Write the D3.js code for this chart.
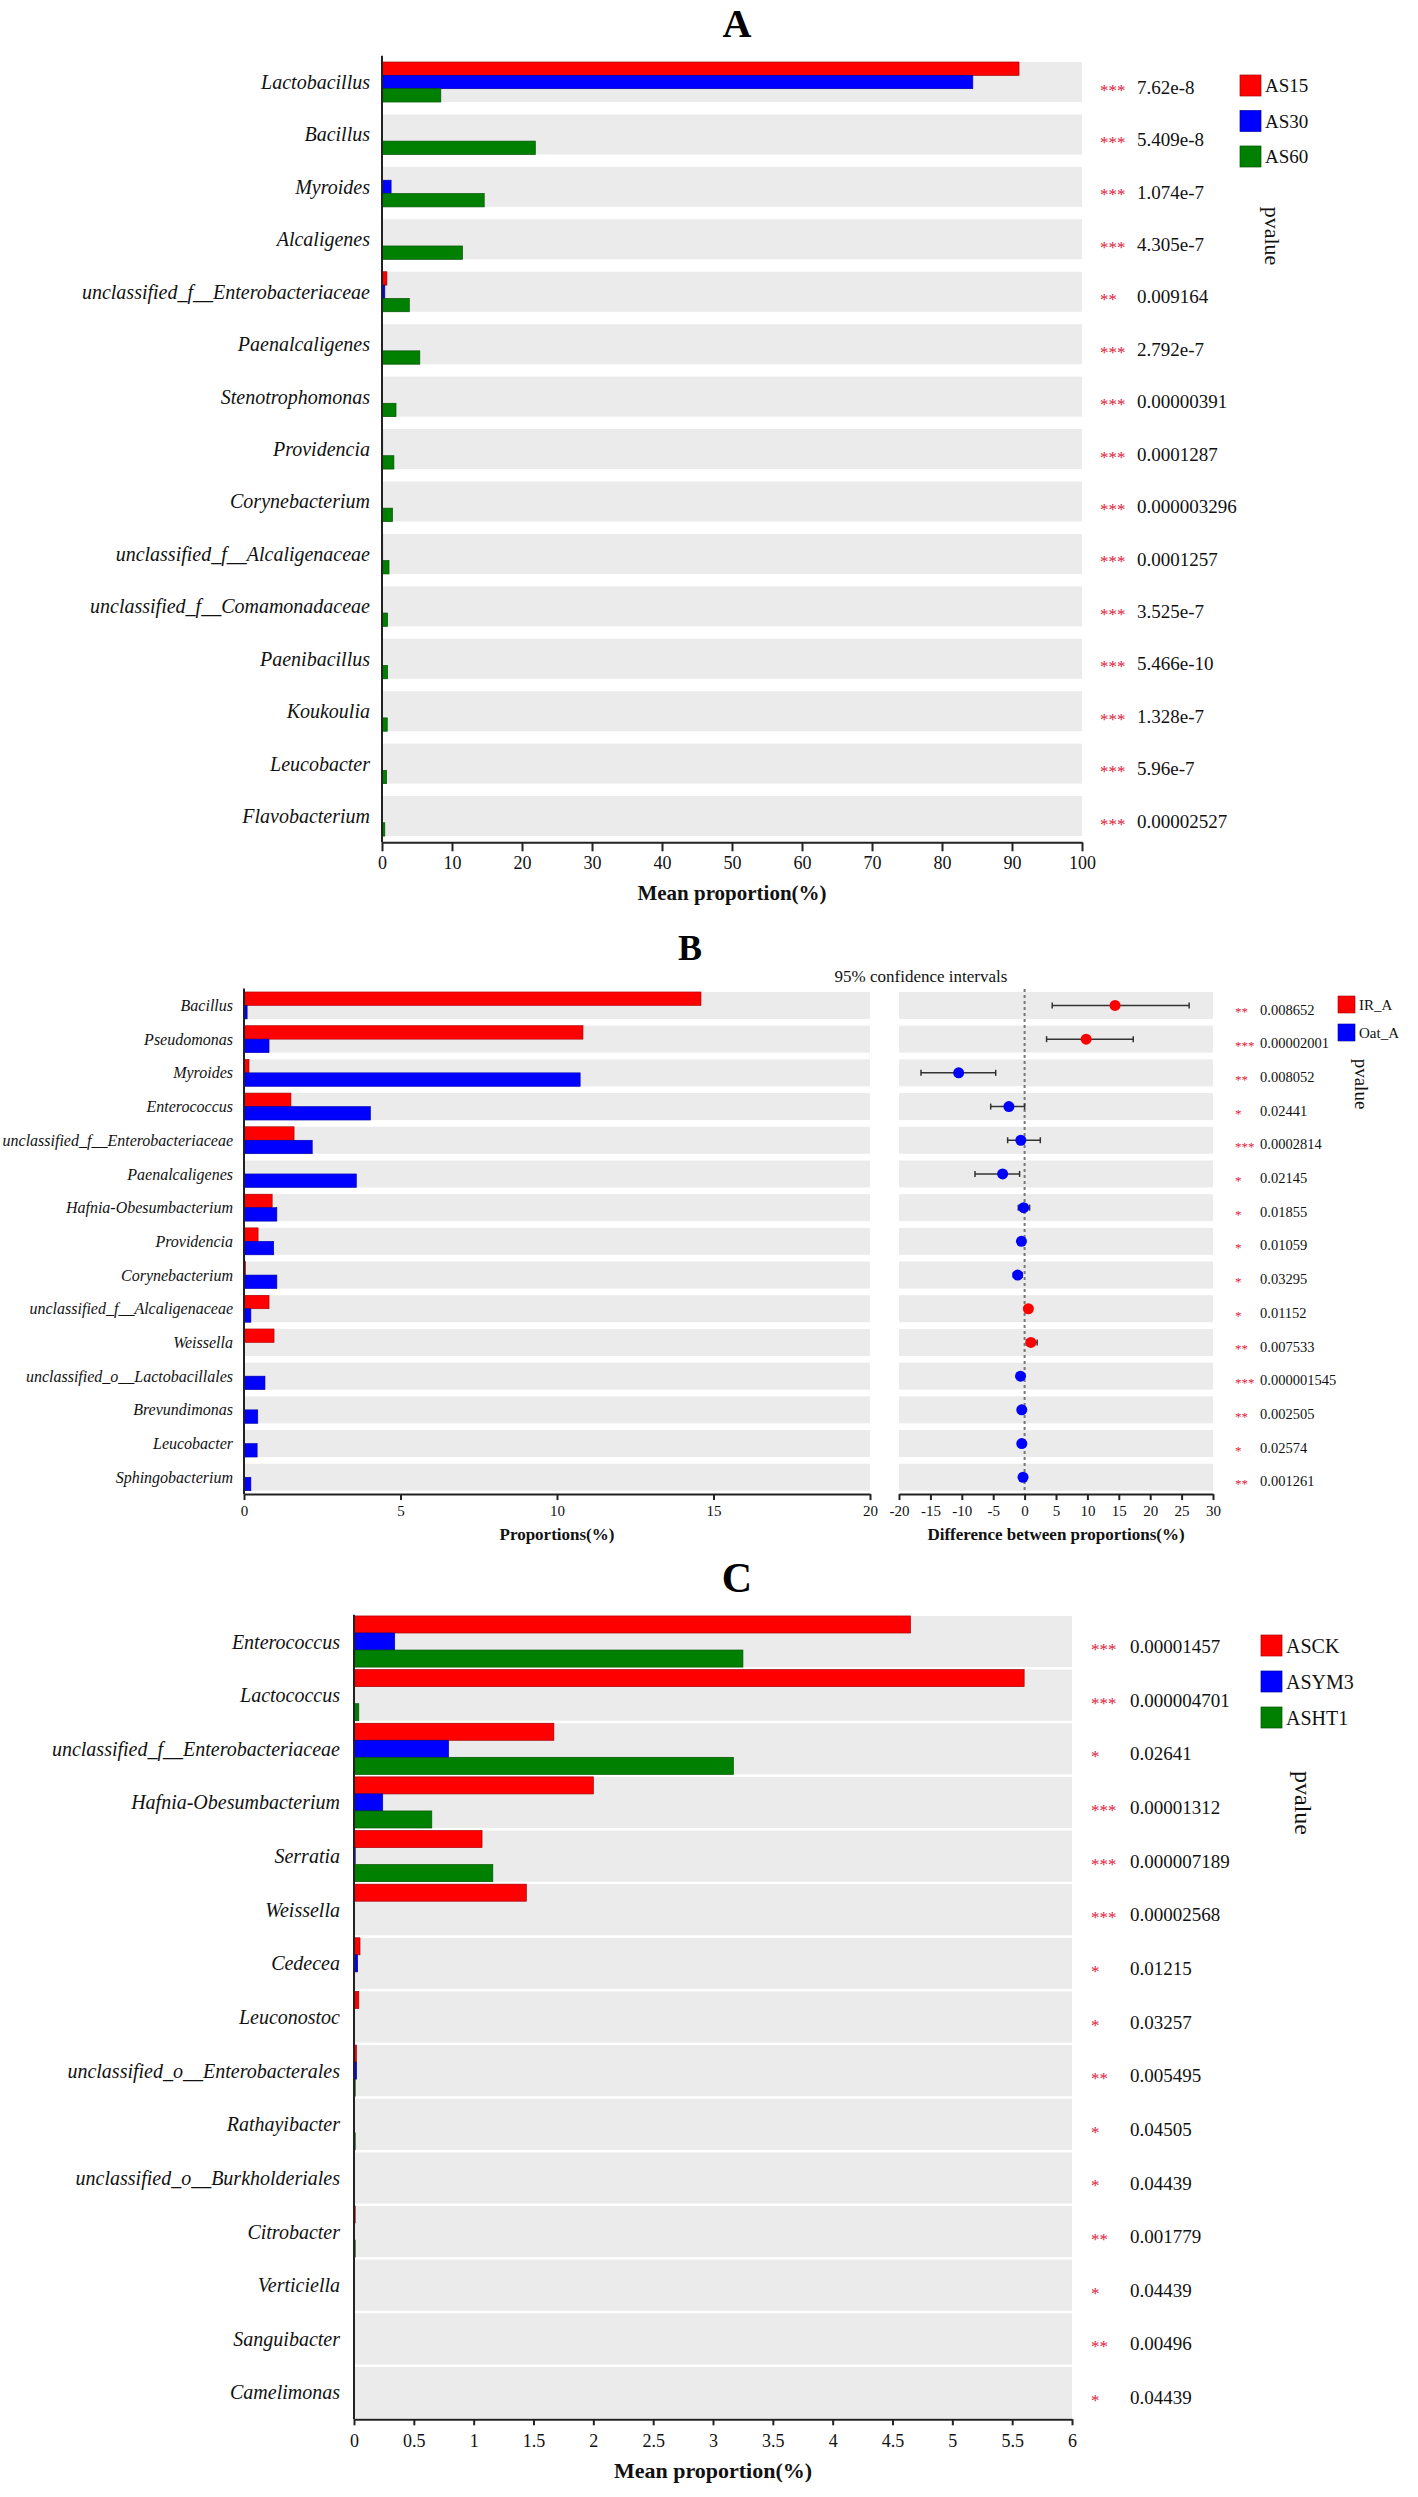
<!DOCTYPE html>
<html lang="en">
<head>
<meta charset="UTF-8">
<title>Differential genera, panels A B C</title>
<script src="https://d3js.org/d3.v7.min.js"></script>
<style>
    body { margin: 0; background: #fff; }
    svg { display: block; font-family: "Liberation Serif", "Times New Roman", serif; }
    .genus { font-style: italic; fill: #111; }
    .axis path, .axis line { stroke: #222; stroke-width: 2; }
    .axis text { font-family: "Liberation Serif", serif; fill: #111; }
</style>
</head>
<body>
<svg id="fig" width="1418" height="2497"></svg>
<script>
    // ---------- data: panel A
    var genusA = ["Lactobacillus", "Bacillus", "Myroides", "Alcaligenes", "unclassified_f__Enterobacteriaceae",
        "Paenalcaligenes", "Stenotrophomonas", "Providencia", "Corynebacterium", "unclassified_f__Alcaligenaceae",
        "unclassified_f__Comamonadaceae", "Paenibacillus", "Koukoulia", "Leucobacter", "Flavobacterium"];
    var as15 = [91.0, 0.05, 0.05, 0.05, 0.7, 0.05, 0.05, 0.1, 0.05, 0.1, 0.05, 0.05, 0.05, 0.05, 0.05];
    var as30 = [84.4, 0.05, 1.3, 0.05, 0.4, 0.05, 0.05, 0.1, 0.05, 0.1, 0.05, 0.05, 0.05, 0.05, 0.05];
    var as60 = [8.4, 21.9, 14.6, 11.5, 3.9, 5.4, 2.0, 1.7, 1.5, 1.0, 0.8, 0.8, 0.75, 0.65, 0.4];
    var starsA = ["***", "***", "***", "***", "**", "***", "***", "***", "***", "***", "***", "***", "***", "***", "***"];
    var pvalA = ["7.62e-8", "5.409e-8", "1.074e-7", "4.305e-7", "0.009164", "2.792e-7", "0.00000391", "0.0001287",
        "0.000003296", "0.0001257", "3.525e-7", "5.466e-10", "1.328e-7", "5.96e-7", "0.00002527"];
    var ticksA = [0, 10, 20, 30, 40, 50, 60, 70, 80, 90, 100];

    // ---------- data: panel B
    var genusB = ["Bacillus", "Pseudomonas", "Myroides", "Enterococcus", "unclassified_f__Enterobacteriaceae",
        "Paenalcaligenes", "Hafnia-Obesumbacterium", "Providencia", "Corynebacterium", "unclassified_f__Alcaligenaceae",
        "Weissella", "unclassified_o__Lactobacillales", "Brevundimonas", "Leucobacter", "Sphingobacterium"];
    var irA = [14.6, 10.83, 0.16, 1.5, 1.6, 0.02, 0.9, 0.45, 0.05, 0.8, 0.96, 0.02, 0.02, 0.02, 0.02];
    var oatA = [0.1, 0.8, 10.74, 4.04, 2.18, 3.59, 1.05, 0.95, 1.05, 0.22, 0.02, 0.67, 0.44, 0.42, 0.22];
    var diffB = [14.4, 9.8, -10.5, -2.5, -0.6, -3.5, -0.15, -0.5, -1.1, 0.6, 1.0, -0.65, -0.45, -0.45, -0.25];
    var ciLowB = [4.4, 3.5, -16.5, -5.4, -2.7, -7.9, -1.0, -0.9, -1.8, 0.15, 0.3, -1.0, -0.75, -0.8, -0.45];
    var ciHighB = [26.2, 17.3, -4.6, 0.0, 2.5, -0.8, 0.8, -0.1, -0.4, 1.05, 2.0, -0.3, -0.15, -0.1, -0.05];
    var starsB = ["**", "***", "**", "*", "***", "*", "*", "*", "*", "*", "**", "***", "**", "*", "**"];
    var pvalB = ["0.008652", "0.00002001", "0.008052", "0.02441", "0.0002814", "0.02145", "0.01855", "0.01059",
        "0.03295", "0.01152", "0.007533", "0.000001545", "0.002505", "0.02574", "0.001261"];
    var ticksB = [0, 5, 10, 15, 20];
    var ticksCI = [-20, -15, -10, -5, 0, 5, 10, 15, 20, 25, 30];

    // ---------- data: panel C
    var genusC = ["Enterococcus", "Lactococcus", "unclassified_f__Enterobacteriaceae", "Hafnia-Obesumbacterium",
        "Serratia", "Weissella", "Cedecea", "Leuconostoc", "unclassified_o__Enterobacterales", "Rathayibacter",
        "unclassified_o__Burkholderiales", "Citrobacter", "Verticiella", "Sanguibacter", "Camelimonas"];
    var asck = [4.65, 5.6, 1.67, 2.0, 1.07, 1.44, 0.05, 0.04, 0.02, 0.005, 0.005, 0.01, 0.005, 0.005, 0.005];
    var asym3 = [0.34, 0.005, 0.79, 0.24, 0.01, 0.005, 0.03, 0.005, 0.02, 0.005, 0.005, 0.005, 0.005, 0.005, 0.005];
    var asht1 = [3.25, 0.04, 3.17, 0.65, 1.16, 0.005, 0.005, 0.005, 0.01, 0.01, 0.005, 0.01, 0.005, 0.005, 0.005];
    var starsC = ["***", "***", "*", "***", "***", "***", "*", "*", "**", "*", "*", "**", "*", "**", "*"];
    var pvalC = ["0.00001457", "0.000004701", "0.02641", "0.00001312", "0.000007189", "0.00002568", "0.01215",
        "0.03257", "0.005495", "0.04505", "0.04439", "0.001779", "0.04439", "0.00496", "0.04439"];
    var ticksC = [0, 0.5, 1, 1.5, 2, 2.5, 3, 3.5, 4, 4.5, 5, 5.5, 6];

    var RED = "#ff0000", BLUE = "#0000ff", GREEN = "#008000", BAND = "#ebebeb", STAR = "#e0203a";

    var svg = d3.select("#fig");
    svg.append("rect").attr("width", 1418).attr("height", 2497).attr("fill", "#fff");

    // grouped horizontal bar panel (used by A and C)
    function groupedPanel(o) {
        var g = svg.append("g");
        var x = d3.scaleLinear().domain(o.xDomain).range(o.xRange);
        var y = d3.scaleBand().domain(o.genus).range(o.yRange)
            .paddingInner(o.padIn).paddingOuter(o.padIn / 2);
        var sub = d3.scaleBand().domain(o.series.map(s => s.name)).range([0, y.bandwidth()]);

        // grey row bands
        g.selectAll(".band").data(o.genus).join("rect")
            .attr("x", x(o.xDomain[0])).attr("width", x(o.xDomain[1]) - x(o.xDomain[0]))
            .attr("y", d => y(d)).attr("height", y.bandwidth())
            .attr("fill", BAND);

        o.series.forEach(s => {
            g.append("g").selectAll("rect").data(o.genus).join("rect")
                .attr("x", x(0))
                .attr("y", d => y(d) + sub(s.name))
                .attr("width", (d, i) => x(s.values[i]) - x(0))
                .attr("height", sub.bandwidth())
                .attr("fill", s.color)
                .attr("stroke", d3.color(s.color).darker(1.2))
                .attr("stroke-width", 0.7);
        });

        // left axis line
        g.append("line").attr("x1", x(0)).attr("x2", x(0))
            .attr("y1", o.yRange[0]).attr("y2", o.yRange[1])
            .attr("stroke", "#222").attr("stroke-width", 2);

        g.append("g").attr("class", "axis")
            .attr("transform", `translate(0,${o.yRange[1]})`)
            .call(d3.axisBottom(x).tickValues(o.ticks).tickFormat(d => d)
                .tickSize(o.tickSize).tickSizeOuter(0).tickPadding(o.tickPad))
            .call(a => a.selectAll("text").style("font-size", o.tickFont + "px"));

        g.selectAll(".genus").data(o.genus).join("text")
            .attr("class", "genus")
            .attr("x", x(0) - o.labelGap)
            .attr("y", d => y(d) + y.bandwidth() / 2)
            .attr("dy", "0.35em")
            .attr("text-anchor", "end")
            .style("font-size", o.labelFont + "px")
            .text(d => d);

        // significance stars and p-values
        g.selectAll(".star").data(o.stars).join("text")
            .attr("x", o.starX)
            .attr("y", (d, i) => y(o.genus[i]) + y.bandwidth() / 2 + o.pOffset + o.pFont * 0.45)
            .attr("fill", STAR)
            .style("font-size", (o.pFont - 2) + "px")
            .text(d => d);
        g.selectAll(".pval").data(o.pvals).join("text")
            .attr("x", o.pvalX)
            .attr("y", (d, i) => y(o.genus[i]) + y.bandwidth() / 2 + o.pOffset)
            .attr("dy", "0.35em")
            .attr("fill", "#111")
            .style("font-size", o.pFont + "px")
            .text(d => d);

        // legend
        o.series.forEach((s, i) => {
            g.append("rect")
                .attr("x", o.legX).attr("y", o.legY + i * o.legStep)
                .attr("width", o.legBox).attr("height", o.legBox)
                .attr("fill", s.color)
                .attr("stroke", d3.color(s.color).darker(1.2)).attr("stroke-width", 0.7);
            g.append("text")
                .attr("x", o.legX + o.legBox + 4).attr("y", o.legY + i * o.legStep + o.legBox / 2)
                .attr("dy", "0.35em")
                .style("font-size", o.legFont + "px")
                .attr("fill", "#111")
                .text(s.name);
        });

        g.append("text")
            .attr("transform", `translate(${o.pvLabel[0]},${o.pvLabel[1]}) rotate(90)`)
            .attr("text-anchor", "middle").attr("dy", "0.35em")
            .style("font-size", o.pvLabel[2] + "px")
            .attr("fill", "#111")
            .text("pvalue");

        g.append("text")
            .attr("x", (x.range()[0] + x.range()[1]) / 2).attr("y", o.titleY)
            .attr("text-anchor", "middle")
            .style("font-size", o.titleFont + "px").style("font-weight", "bold")
            .attr("fill", "#111")
            .text("Mean proportion(%)");

        g.append("text")
            .attr("x", o.panel[0]).attr("y", o.panel[1])
            .attr("text-anchor", "middle")
            .style("font-size", o.panel[2] + "px").style("font-weight", "bold")
            .attr("fill", "#000")
            .text(o.panel[3]);
    }

    // ---------- panel A
    groupedPanel({
        genus: genusA,
        series: [{name: "AS15", color: RED, values: as15},
                 {name: "AS30", color: BLUE, values: as30},
                 {name: "AS60", color: GREEN, values: as60}],
        xDomain: [0, 100], xRange: [382, 1082],
        yRange: [55.8, 842.3], padIn: 0.237,
        ticks: ticksA, tickSize: 9, tickPad: 5, tickFont: 18,
        labelGap: 12, labelFont: 20,
        stars: starsA, pvals: pvalA, starX: 1100, pvalX: 1137, pFont: 19, pOffset: 5,
        legX: 1240, legY: 75, legStep: 35.5, legBox: 21, legFont: 19,
        pvLabel: [1273, 236, 22],
        titleY: 900, titleFont: 21,
        panel: [737, 37, 40, "A"]
    });

    // ---------- panel B (two-group comparison with confidence intervals)
    var gB = svg.append("g");
    var xB = d3.scaleLinear().domain([0, 20]).range([244, 870]);
    var xCI = d3.scaleLinear().domain([-20, 30]).range([899, 1213]);
    var yB = d3.scaleBand().domain(genusB).range([988.6, 1494.1]).paddingInner(0.2).paddingOuter(0.1);
    var subB = d3.scaleBand().domain(["IR_A", "Oat_A"]).range([0, yB.bandwidth()]);
    var seriesB = [{name: "IR_A", color: RED, values: irA}, {name: "Oat_A", color: BLUE, values: oatA}];

    gB.selectAll(".bandL").data(genusB).join("rect")
        .attr("x", xB(0)).attr("width", xB(20) - xB(0))
        .attr("y", d => yB(d)).attr("height", yB.bandwidth()).attr("fill", BAND);
    gB.selectAll(".bandR").data(genusB).join("rect")
        .attr("x", xCI(-20)).attr("width", xCI(30) - xCI(-20))
        .attr("y", d => yB(d)).attr("height", yB.bandwidth()).attr("fill", BAND);

    seriesB.forEach(s => {
        gB.append("g").selectAll("rect").data(genusB).join("rect")
            .attr("x", xB(0))
            .attr("y", d => yB(d) + subB(s.name))
            .attr("width", (d, i) => xB(s.values[i]) - xB(0))
            .attr("height", subB.bandwidth())
            .attr("fill", s.color)
            .attr("stroke", d3.color(s.color).darker(1.2)).attr("stroke-width", 0.6);
    });

    gB.append("line").attr("x1", xB(0)).attr("x2", xB(0))
        .attr("y1", 988.6).attr("y2", 1494.1)
        .attr("stroke", "#222").attr("stroke-width", 2);

    gB.append("g").attr("class", "axis")
        .attr("transform", "translate(0,1494.1)")
        .call(d3.axisBottom(xB).tickValues(ticksB).tickFormat(d => d).tickSize(6).tickSizeOuter(0).tickPadding(5))
        .call(a => a.selectAll("text").style("font-size", "15px"));
    gB.append("g").attr("class", "axis")
        .attr("transform", "translate(0,1494.1)")
        .call(d3.axisBottom(xCI).tickValues(ticksCI).tickFormat(d => d).tickSize(6).tickSizeOuter(0).tickPadding(5))
        .call(a => a.selectAll("text").style("font-size", "15px"));

    // zero reference line
    gB.append("line").attr("x1", xCI(0)).attr("x2", xCI(0))
        .attr("y1", 989).attr("y2", 1494)
        .attr("stroke", "#777").attr("stroke-width", 2).attr("stroke-dasharray", "3,3");

    var ci = gB.append("g").selectAll("g").data(genusB).join("g")
        .attr("transform", d => `translate(0,${yB(d) + yB.bandwidth() / 2})`);
    ci.append("line")
        .attr("x1", (d, i) => xCI(ciLowB[i])).attr("x2", (d, i) => xCI(ciHighB[i]))
        .attr("stroke", "#333").attr("stroke-width", 1.5);
    ci.append("line")
        .attr("x1", (d, i) => xCI(ciLowB[i])).attr("x2", (d, i) => xCI(ciLowB[i]))
        .attr("y1", -3).attr("y2", 3).attr("stroke", "#333").attr("stroke-width", 1.5);
    ci.append("line")
        .attr("x1", (d, i) => xCI(ciHighB[i])).attr("x2", (d, i) => xCI(ciHighB[i]))
        .attr("y1", -3).attr("y2", 3).attr("stroke", "#333").attr("stroke-width", 1.5);
    ci.append("circle")
        .attr("cx", (d, i) => xCI(diffB[i])).attr("r", 5.5)
        .attr("fill", (d, i) => diffB[i] > 0 ? RED : BLUE);

    gB.selectAll(".genus").data(genusB).join("text")
        .attr("class", "genus")
        .attr("x", 233).attr("y", d => yB(d) + yB.bandwidth() / 2)
        .attr("dy", "0.35em").attr("text-anchor", "end")
        .style("font-size", "16px")
        .text(d => d);

    gB.selectAll(".star").data(starsB).join("text")
        .attr("x", 1235).attr("y", (d, i) => yB(genusB[i]) + yB.bandwidth() / 2 + 4 + 7)
        .attr("fill", STAR).style("font-size", "13px").text(d => d);
    gB.selectAll(".pval").data(pvalB).join("text")
        .attr("x", 1260).attr("y", (d, i) => yB(genusB[i]) + yB.bandwidth() / 2 + 4)
        .attr("dy", "0.35em").attr("fill", "#111").style("font-size", "14.5px").text(d => d);

    seriesB.forEach((s, i) => {
        gB.append("rect").attr("x", 1338).attr("y", 996 + i * 28)
            .attr("width", 17).attr("height", 17).attr("fill", s.color)
            .attr("stroke", d3.color(s.color).darker(1.2)).attr("stroke-width", 0.6);
        gB.append("text").attr("x", 1359).attr("y", 996 + i * 28 + 8.5).attr("dy", "0.35em")
            .style("font-size", "15px").attr("fill", "#111").text(s.name);
    });
    gB.append("text")
        .attr("transform", "translate(1362,1084) rotate(90)")
        .attr("text-anchor", "middle").attr("dy", "0.35em")
        .style("font-size", "19px").attr("fill", "#111").text("pvalue");

    gB.append("text").attr("x", 921).attr("y", 982).attr("text-anchor", "middle")
        .style("font-size", "17px").attr("fill", "#111").text("95% confidence intervals");
    gB.append("text").attr("x", (xB(0) + xB(20)) / 2).attr("y", 1540).attr("text-anchor", "middle")
        .style("font-size", "17px").style("font-weight", "bold").attr("fill", "#111").text("Proportions(%)");
    gB.append("text").attr("x", (xCI(-20) + xCI(30)) / 2).attr("y", 1540).attr("text-anchor", "middle")
        .style("font-size", "17px").style("font-weight", "bold").attr("fill", "#111")
        .text("Difference between proportions(%)");
    gB.append("text").attr("x", 690).attr("y", 960).attr("text-anchor", "middle")
        .style("font-size", "36px").style("font-weight", "bold").attr("fill", "#000").text("B");

    // ---------- panel C
    groupedPanel({
        genus: genusC,
        series: [{name: "ASCK", color: RED, values: asck},
                 {name: "ASYM3", color: BLUE, values: asym3},
                 {name: "ASHT1", color: GREEN, values: asht1}],
        xDomain: [0, 6], xRange: [354, 1072],
        yRange: [1614.7, 2419.3], padIn: 0.047,
        ticks: ticksC, tickSize: 6, tickPad: 9, tickFont: 18,
        labelGap: 14, labelFont: 20,
        stars: starsC, pvals: pvalC, starX: 1091, pvalX: 1130, pFont: 19, pOffset: 5,
        legX: 1261, legY: 1635, legStep: 36, legBox: 21, legFont: 20,
        pvLabel: [1303, 1803, 24],
        titleY: 2478, titleFont: 22,
        panel: [737, 1592, 42, "C"]
    });
</script>
</body>
</html>
